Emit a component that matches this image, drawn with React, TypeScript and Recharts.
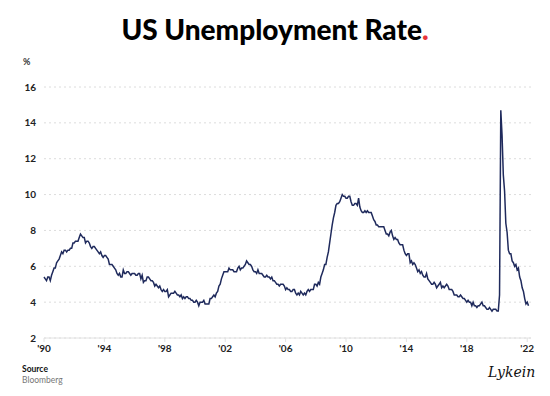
import { LineChart, Line, XAxis, YAxis, CartesianGrid } from 'recharts';

// Monthly unemployment rate, Jan..Dec of each year
const years = [
  1990, 1991, 1992, 1993, 1994, 1995, 1996, 1997, 1998, 1999, 2000,
  2001, 2002, 2003, 2004, 2005, 2006, 2007, 2008, 2009, 2010, 2011,
  2012, 2013, 2014, 2015, 2016, 2017, 2018, 2019, 2020, 2021, 2022,
];

const monthly: number[][] = [
  [5.4, 5.3, 5.2, 5.4, 5.4, 5.2, 5.5, 5.7, 5.9, 5.9, 6.2, 6.3],
  [6.4, 6.6, 6.8, 6.7, 6.9, 6.9, 6.8, 6.9, 6.9, 7.0, 7.0, 7.3],
  [7.3, 7.4, 7.4, 7.4, 7.6, 7.8, 7.7, 7.6, 7.6, 7.3, 7.4, 7.4],
  [7.3, 7.1, 7.0, 7.1, 7.1, 7.0, 6.9, 6.8, 6.7, 6.8, 6.6, 6.5],
  [6.6, 6.6, 6.5, 6.4, 6.1, 6.1, 6.1, 6.0, 5.9, 5.8, 5.6, 5.5],
  [5.6, 5.4, 5.4, 5.8, 5.6, 5.6, 5.7, 5.7, 5.6, 5.5, 5.6, 5.6],
  [5.6, 5.5, 5.5, 5.6, 5.6, 5.3, 5.5, 5.1, 5.2, 5.2, 5.4, 5.4],
  [5.3, 5.2, 5.2, 5.1, 4.9, 5.0, 4.9, 4.8, 4.9, 4.7, 4.6, 4.7],
  [4.6, 4.6, 4.7, 4.3, 4.4, 4.5, 4.5, 4.5, 4.6, 4.5, 4.4, 4.4],
  [4.3, 4.4, 4.2, 4.3, 4.2, 4.3, 4.3, 4.2, 4.2, 4.1, 4.1, 4.0],
  [4.0, 4.1, 4.0, 3.8, 4.0, 4.0, 4.0, 4.1, 3.9, 3.9, 3.9, 3.9],
  [4.2, 4.2, 4.3, 4.4, 4.3, 4.5, 4.6, 4.9, 5.0, 5.3, 5.5, 5.7],
  [5.7, 5.7, 5.7, 5.9, 5.8, 5.8, 5.8, 5.7, 5.7, 5.7, 5.9, 6.0],
  [5.8, 5.9, 5.9, 6.0, 6.1, 6.3, 6.2, 6.1, 6.1, 6.0, 5.8, 5.7],
  [5.7, 5.6, 5.8, 5.6, 5.6, 5.6, 5.5, 5.4, 5.4, 5.5, 5.4, 5.4],
  [5.3, 5.4, 5.2, 5.2, 5.1, 5.0, 5.0, 4.9, 5.0, 5.0, 5.0, 4.9],
  [4.7, 4.8, 4.7, 4.7, 4.6, 4.6, 4.7, 4.7, 4.5, 4.4, 4.5, 4.4],
  [4.6, 4.5, 4.4, 4.5, 4.4, 4.6, 4.7, 4.6, 4.7, 4.7, 4.7, 5.0],
  [5.0, 4.9, 5.1, 5.0, 5.4, 5.6, 5.8, 6.1, 6.1, 6.5, 6.8, 7.3],
  [7.8, 8.3, 8.7, 9.0, 9.4, 9.5, 9.5, 9.6, 9.8, 10.0, 9.9, 9.9],
  [9.8, 9.8, 9.9, 9.9, 9.6, 9.4, 9.4, 9.5, 9.5, 9.4, 9.8, 9.3],
  [9.1, 9.0, 9.0, 9.1, 9.0, 9.1, 9.0, 9.0, 9.0, 8.8, 8.6, 8.5],
  [8.3, 8.3, 8.2, 8.2, 8.2, 8.2, 8.2, 8.0, 7.8, 7.8, 7.7, 7.9],
  [8.0, 7.7, 7.5, 7.6, 7.5, 7.5, 7.3, 7.2, 7.2, 7.2, 6.9, 6.7],
  [6.6, 6.7, 6.7, 6.2, 6.3, 6.1, 6.2, 6.1, 5.9, 5.7, 5.8, 5.6],
  [5.7, 5.5, 5.4, 5.4, 5.6, 5.3, 5.2, 5.1, 5.0, 5.0, 5.1, 5.0],
  [4.8, 4.9, 5.0, 5.1, 4.8, 4.9, 4.8, 4.9, 5.0, 4.9, 4.7, 4.7],
  [4.7, 4.6, 4.4, 4.4, 4.4, 4.3, 4.3, 4.4, 4.3, 4.2, 4.2, 4.1],
  [4.0, 4.1, 4.0, 4.0, 3.8, 4.0, 3.8, 3.8, 3.7, 3.8, 3.8, 3.9],
  [4.0, 3.8, 3.8, 3.7, 3.6, 3.6, 3.7, 3.6, 3.5, 3.6, 3.6, 3.6],
  [3.5, 3.5, 4.4, 14.7, 13.3, 11.1, 10.2, 8.4, 7.9, 6.9, 6.7, 6.7],
  [6.3, 6.2, 6.0, 6.1, 5.8, 5.9, 5.4, 5.2, 4.8, 4.6, 4.2, 3.9],
  [4.0, 3.8],
];

const yearTicks = [1990, 1994, 1998, 2002, 2006, 2010, 2014, 2018, 2022];
const rateTicks = [2, 4, 6, 8, 10, 12, 14, 16];

const data = years.flatMap((y, i) =>
  monthly[i].map((v, m) => ({ t: y + m / 12, rate: v })),
);

const font = 'Lato, "Open Sans", sans-serif';

export default function App() {
  return (
    <div style={{ position: 'relative', width: 550, height: 396, background: '#fff', fontFamily: font, margin: -8, overflow: 'hidden' }}>
      <div
        style={{
          position: 'absolute',
          top: 12,
          left: 0,
          width: 550,
          textAlign: 'center',
          fontSize: 28,
          fontWeight: 900,
          color: '#000',
        }}
      >
        US Unemployment Rate<span style={{ color: '#e8343a' }}>.</span>
      </div>
      <div style={{ position: 'absolute', top: 56, left: 23, fontSize: 9, fontWeight: 700, color: '#333' }}>%</div>

      <LineChart
        width={550}
        height={396}
        data={data}
        margin={{ top: 87, right: 19, bottom: 28, left: 14 }}
      >
        <CartesianGrid vertical={false} stroke="#dcdcdc" strokeDasharray="2 3" />
        <XAxis
          dataKey="t"
          type="number"
          domain={[1990, 2022.25]}
          ticks={yearTicks}
          tickFormatter={(v) => `'${String(v).slice(2)}`}
          axisLine={{ stroke: '#e2e2e2' }}
          tickLine={{ stroke: '#e2e2e2' }}
          tickSize={4}
          tickMargin={3}
          height={30}
          tick={{ fontSize: 10, fontWeight: 700, fill: '#222', fontFamily: font }}
        />
        <YAxis
          domain={[2, 16]}
          ticks={rateTicks}
          axisLine={false}
          tickLine={false}
          width={30}
          tick={{ fontSize: 10, fontWeight: 700, fill: '#222', fontFamily: font }}
        />
        <Line
          type="linear"
          dataKey="rate"
          stroke="#1f2a5c"
          strokeWidth={1.5}
          dot={false}
          isAnimationActive={false}
        />
      </LineChart>

      <div style={{ position: 'absolute', top: 364, left: 22, fontSize: 8.5, lineHeight: '11px' }}>
        <div style={{ fontWeight: 700, color: '#111' }}>Source</div>
        <div style={{ color: '#777' }}>Bloomberg</div>
      </div>
      <div
        style={{
          position: 'absolute',
          top: 364,
          left: 488,
          fontSize: 14,
          fontStyle: 'italic',
          fontFamily: '"DejaVu Serif", serif',
          color: '#111',
          whiteSpace: 'nowrap',
        }}
      >
        Lykein
      </div>
    </div>
  );
}
